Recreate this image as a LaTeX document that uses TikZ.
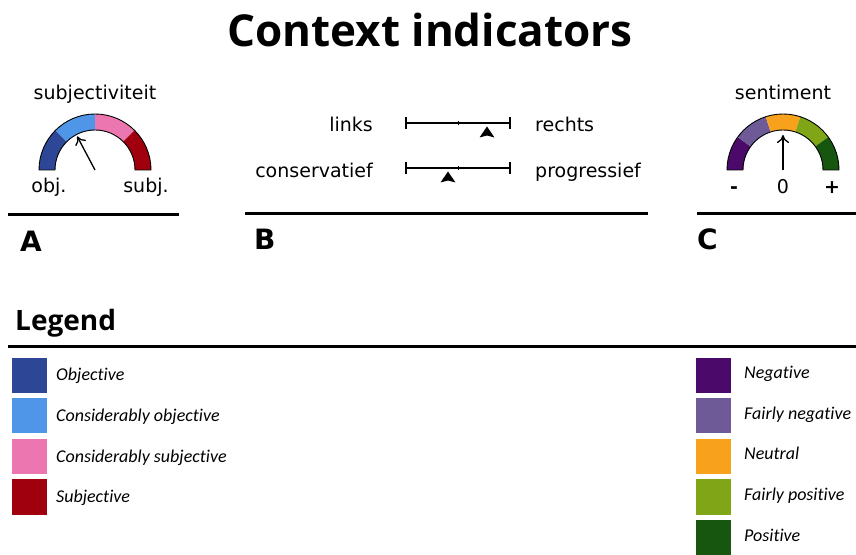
\documentclass[tikz,border=0pt]{standalone}
\usepackage{fontspec}
\setmainfont{DejaVu Sans}
\newfontfamily\headfont{Open Sans}
\newfontfamily\legfont[Ligatures=NoCommon]{Carlito}
\usetikzlibrary{arrows.meta}

% gauge colours
\definecolor{objc}{RGB}{46,70,150}
\definecolor{cobj}{RGB}{80,150,232}
\definecolor{csubj}{RGB}{236,118,176}
\definecolor{subjc}{RGB}{160,0,14}
\definecolor{negc}{RGB}{75,10,105}
\definecolor{fnegc}{RGB}{110,90,150}
\definecolor{neuc}{RGB}{247,161,28}
\definecolor{fposc}{RGB}{128,165,22}
\definecolor{posc}{RGB}{22,86,15}

\begin{document}
\begin{tikzpicture}[x=1pt,y=1pt,
  lbl/.style={font=\fontsize{19}{19}\selectfont, inner sep=0pt},
  panel/.style={font=\bfseries\fontsize{28}{28}\selectfont, inner sep=0pt, anchor=base west},
  heading/.style={font=\headfont\bfseries\fontsize{#1}{#1}\selectfont, inner sep=0pt},
  leg/.style={font=\legfont\itshape\fontsize{18}{18}\selectfont, inner sep=0pt, anchor=base west},
  swatch/.style={minimum size=35pt, inner sep=0pt, fill=#1},
  rule/.style={line width=3pt},
  rim/.style={draw=black, line width=0.9pt},
  needle/.style={-{To[length=8pt,width=12pt]}, line width=1.3pt},
  scalebar/.style={line width=1.4pt},
  marker/.style={fill=black}
]
\useasboundingbox (0,0) rectangle (856,554);

% title
\node[heading=44, anchor=base] (title) at (430,507) {Context indicators};

% ---------- A: subjectivity gauge ----------
\coordinate (gA) at (95,384);
\begin{scope}[shift={(gA)}]
  \foreach \a/\b/\c in {180/135/objc, 135/90/cobj, 90/45/csubj, 45/0/subjc}
    \fill[\c] (\a:56) arc[start angle=\a, end angle=\b, radius=56]
      -- (\b:40) arc[start angle=\b, end angle=\a, radius=40] -- cycle;
  \draw[rim] (180:56) arc[start angle=180, end angle=0, radius=56]
    -- (0:40) arc[start angle=0, end angle=180, radius=40] -- cycle;
\end{scope}
\coordinate (gAtip) at (77.2,417.6);
\draw[needle] (gA) -- (gAtip);
\node[lbl, anchor=base] (subjtitle) at (95,454) {subjectiviteit};
\node[lbl, anchor=base] (objlbl) at (49,361) {obj.};
\node[lbl, anchor=base] (subjlbl) at (146,361) {subj.};
\coordinate (rA1) at (8,339);
\coordinate (rA2) at (179,339);
\draw[rule] (rA1) -- (rA2);
\node[panel] (pA) at (20,302) {A};

% ---------- B: political scales ----------
\node[lbl, anchor=base east] (links) at (373,422) {links};
\node[lbl, anchor=base west] (rechts) at (535,422) {rechts};
\node[lbl, anchor=base east] (cons) at (373,376) {conservatief};
\node[lbl, anchor=base west] (prog) at (535,376) {progressief};

\foreach \n/\y/\m in {one/431/487, two/386/448}{
  \coordinate (\n L) at (406,\y);
  \coordinate (\n R) at (510,\y);
  \coordinate (\n M) at (458,\y);
  \draw[scalebar] (\n L) -- (\n R);
  \draw[scalebar] ([yshift=-6pt]\n L) -- ([yshift=6pt]\n L);
  \draw[scalebar] ([yshift=-6pt]\n R) -- ([yshift=6pt]\n R);
  \draw[line width=1pt] ([yshift=-2pt]\n M) -- ([yshift=2pt]\n M);
  \fill[marker] (\m,\y-3.5) -- (\m+7.5,\y-14.5) -- (\m,\y-12.5)
    -- (\m-7.5,\y-14.5) -- cycle;
}
\coordinate (rB1) at (245,340);
\coordinate (rB2) at (648,340);
\draw[rule] (rB1) -- (rB2);
\node[panel] (pB) at (254,304) {B};

% ---------- C: sentiment gauge ----------
\coordinate (gC) at (783,384);
\begin{scope}[shift={(gC)}]
  \foreach \a/\b/\c in {180/144/negc, 144/108/fnegc, 108/72/neuc, 72/36/fposc, 36/0/posc}
    \fill[\c] (\a:56) arc[start angle=\a, end angle=\b, radius=56]
      -- (\b:40) arc[start angle=\b, end angle=\a, radius=40] -- cycle;
  \draw[rim] (180:56) arc[start angle=180, end angle=0, radius=56]
    -- (0:40) arc[start angle=0, end angle=180, radius=40] -- cycle;
\end{scope}
\coordinate (gCtip) at (783,419);
\draw[needle] (gC) -- (gCtip);
\node[lbl, anchor=base] (senttitle) at (783,454) {sentiment};
\node[lbl, anchor=base, font=\bfseries\fontsize{19}{19}\selectfont] (minus) at (734,360) {-};
\node[lbl, anchor=base] (zero) at (783,360) {0};
\node[lbl, anchor=base, font=\bfseries\fontsize{19}{19}\selectfont] (plus) at (832,360) {+};
\coordinate (rC1) at (697,340);
\coordinate (rC2) at (856,340);
\draw[rule] (rC1) -- (rC2);
\node[panel] (pC) at (697,304) {C};

% ---------- legend ----------
\node[heading=28, anchor=base west] (legend) at (15,223) {Legend};
\coordinate (rL1) at (8,207);
\coordinate (rL2) at (856,207);
\draw[rule] (rL1) -- (rL2);

\foreach \i/\c/\t in {0/objc/Objective, 1/cobj/Considerably objective,
                      2/csubj/Considerably subjective, 3/subjc/Subjective}{
  \node[swatch=\c] (swl\i) at (29.5,178.5-40.5*\i) {};
  \node[leg] (tl\i) at (56,173-40.5*\i) {\t};
}
\foreach \i/\c/\t in {0/negc/Negative, 1/fnegc/Fairly negative, 2/neuc/Neutral,
                      3/fposc/Fairly positive, 4/posc/Positive}{
  \node[swatch=\c] (swr\i) at (713.5,178.5-40.5*\i) {};
  \node[leg] (tr\i) at (744,175-40.5*\i) {\t};
}
\end{tikzpicture}
\end{document}
